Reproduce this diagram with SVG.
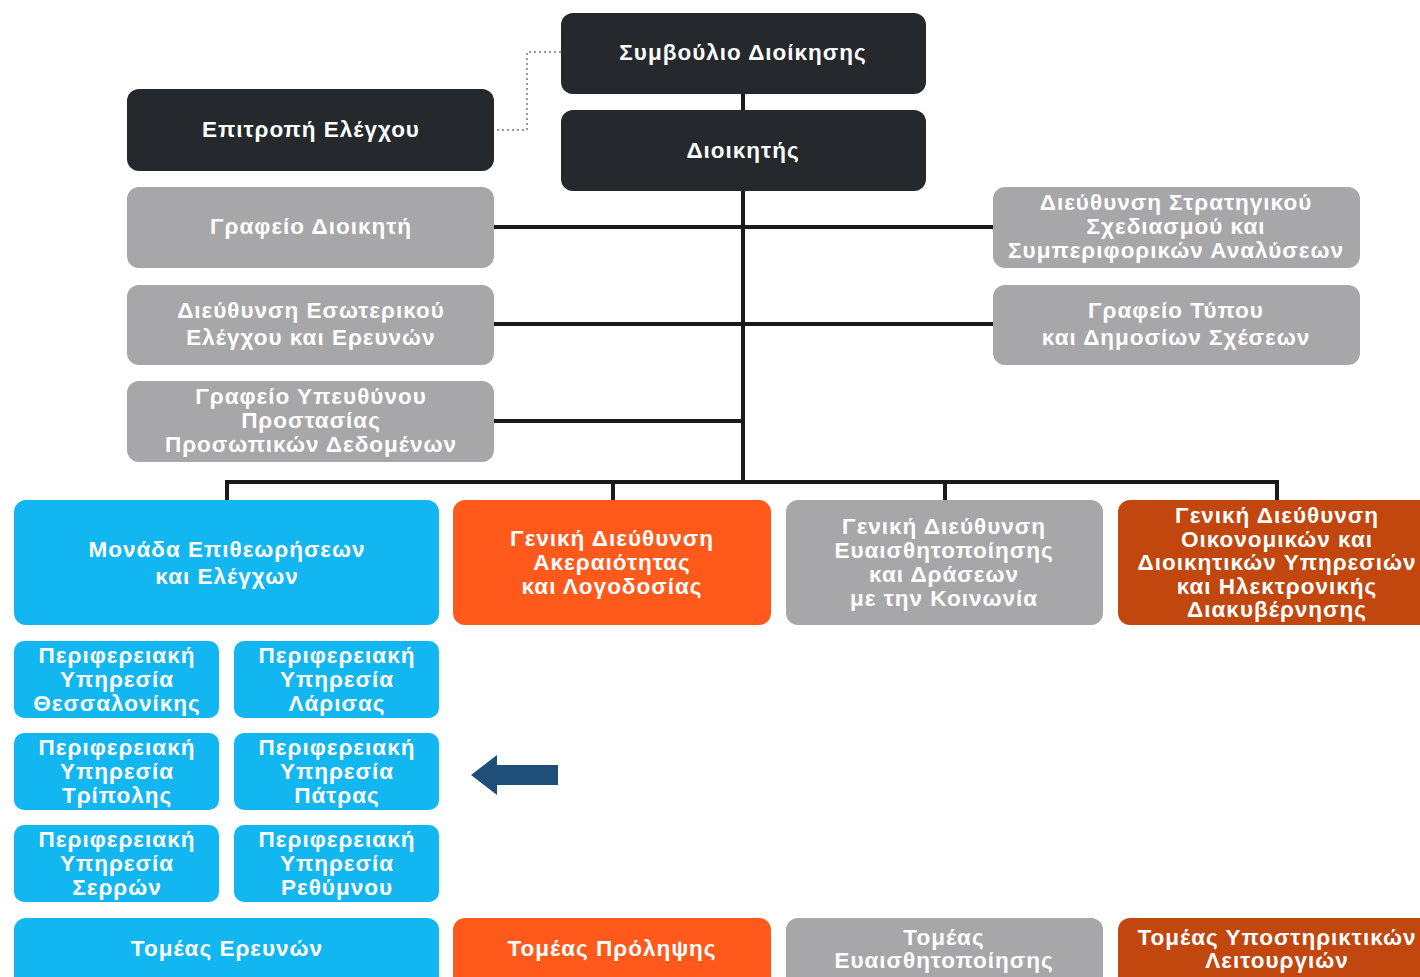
<svg xmlns="http://www.w3.org/2000/svg" width="1420" height="977" viewBox="0 0 1420 977">
<style>
.box{stroke:none}
.dark{fill:#25282c}
.gray{fill:#a7a7a9}
.blue{fill:#12b6f0}
.orange{fill:#ff5a1c}
.rust{fill:#c2470f}
text{font-family:"Liberation Sans",Arial,sans-serif;font-weight:bold;font-size:22.5px;fill:#ffffff;text-anchor:middle;dominant-baseline:central;letter-spacing:1px}
.line{stroke:#1a1a1a;stroke-width:4;fill:none}
.dot{stroke:#9a9a9a;stroke-width:2;stroke-dasharray:2 3;fill:none}
</style>
<rect width="1420" height="977" fill="#ffffff"/>
<g id="connectors">
<polyline class="dot" points="497,130 527,130 527,52 561,52"/>
<line class="line" x1="743" y1="94" x2="743" y2="110"/>
<line class="line" x1="743" y1="191" x2="743" y2="484"/>
<line class="line" x1="494" y1="227" x2="993" y2="227"/>
<line class="line" x1="494" y1="324" x2="993" y2="324"/>
<line class="line" x1="494" y1="421" x2="743" y2="421"/>
<polyline class="line" points="227,500 227,482 1277,482 1277,500"/>
<line class="line" x1="613" y1="482" x2="613" y2="500"/>
<line class="line" x1="945" y1="482" x2="945" y2="500"/>
</g>
<g id="n-symvoulio"><rect class="box dark" x="561" y="13" width="365" height="81" rx="12"/><text x="743" y="52">Συμβούλιο Διοίκησης</text></g>
<g id="n-dioikitis"><rect class="box dark" x="561" y="110" width="365" height="81" rx="12"/><text x="743" y="150">Διοικητής</text></g>
<g id="n-epitropi"><rect class="box dark" x="127" y="89" width="367" height="82" rx="12"/><text x="311" y="129">Επιτροπή Ελέγχου</text></g>
<g id="n-grafeio-dioikiti"><rect class="box gray" x="127" y="187" width="367" height="81" rx="12"/><text x="311" y="226">Γραφείο Διοικητή</text></g>
<g id="n-esoterikou"><rect class="box gray" x="127" y="285" width="367" height="80" rx="12"/><text x="311" y="310">Διεύθυνση Εσωτερικού</text><text x="311" y="337">Ελέγχου και Ερευνών</text></g>
<g id="n-dpo"><rect class="box gray" x="127" y="381" width="367" height="81" rx="12"/><text x="311" y="396">Γραφείο Υπευθύνου</text><text x="311" y="420">Προστασίας</text><text x="311" y="444">Προσωπικών Δεδομένων</text></g>
<g id="n-stratigikou"><rect class="box gray" x="993" y="187" width="367" height="81" rx="12"/><text x="1176" y="202">Διεύθυνση Στρατηγικού</text><text x="1176" y="226">Σχεδιασμού και</text><text x="1176" y="250">Συμπεριφορικών Αναλύσεων</text></g>
<g id="n-typou"><rect class="box gray" x="993" y="285" width="367" height="80" rx="12"/><text x="1176" y="310">Γραφείο Τύπου</text><text x="1176" y="337">και Δημοσίων Σχέσεων</text></g>
<g id="n-monada"><rect class="box blue" x="14" y="500" width="425" height="125" rx="12"/><text x="227" y="549">Μονάδα Επιθεωρήσεων</text><text x="227" y="576">και Ελέγχων</text></g>
<g id="n-akeraiotitas"><rect class="box orange" x="453" y="500" width="318" height="125" rx="12"/><text x="612" y="538">Γενική Διεύθυνση</text><text x="612" y="562">Ακεραιότητας</text><text x="612" y="586">και Λογοδοσίας</text></g>
<g id="n-evaisthitopoiisis"><rect class="box gray" x="786" y="500" width="317" height="125" rx="12"/><text x="944" y="526">Γενική Διεύθυνση</text><text x="944" y="550">Ευαισθητοποίησης</text><text x="944" y="574">και Δράσεων</text><text x="944" y="598">με την Κοινωνία</text></g>
<g id="n-oikonomikon"><rect class="box rust" x="1118" y="500" width="320" height="125" rx="12"/><text x="1277" y="515">Γενική Διεύθυνση</text><text x="1277" y="539">Οικονομικών και</text><text x="1277" y="562">Διοικητικών Υπηρεσιών</text><text x="1277" y="586">και Ηλεκτρονικής</text><text x="1277" y="609">Διακυβέρνησης</text></g>
<g id="n-thessalonikis"><rect class="box blue" x="14" y="641" width="205" height="77" rx="10"/><text x="117" y="655">Περιφερειακή</text><text x="117" y="679">Υπηρεσία</text><text x="117" y="703">Θεσσαλονίκης</text></g>
<g id="n-larisas"><rect class="box blue" x="234" y="641" width="205" height="77" rx="10"/><text x="337" y="655">Περιφερειακή</text><text x="337" y="679">Υπηρεσία</text><text x="337" y="703">Λάρισας</text></g>
<g id="n-tripolis"><rect class="box blue" x="14" y="733" width="205" height="77" rx="10"/><text x="117" y="747">Περιφερειακή</text><text x="117" y="771">Υπηρεσία</text><text x="117" y="795">Τρίπολης</text></g>
<g id="n-patras"><rect class="box blue" x="234" y="733" width="205" height="77" rx="10"/><text x="337" y="747">Περιφερειακή</text><text x="337" y="771">Υπηρεσία</text><text x="337" y="795">Πάτρας</text></g>
<g id="n-serron"><rect class="box blue" x="14" y="825" width="205" height="77" rx="10"/><text x="117" y="839">Περιφερειακή</text><text x="117" y="863">Υπηρεσία</text><text x="117" y="887">Σερρών</text></g>
<g id="n-rethymnou"><rect class="box blue" x="234" y="825" width="205" height="77" rx="10"/><text x="337" y="839">Περιφερειακή</text><text x="337" y="863">Υπηρεσία</text><text x="337" y="887">Ρεθύμνου</text></g>
<g id="n-tomeas-erevnon"><rect class="box blue" x="14" y="918" width="425" height="80" rx="12"/><text x="227" y="948">Τομέας Ερευνών</text></g>
<g id="n-tomeas-prolipsis"><rect class="box orange" x="453" y="918" width="318" height="80" rx="12"/><text x="612" y="948">Τομέας Πρόληψης</text></g>
<g id="n-tomeas-evaisth"><rect class="box gray" x="786" y="918" width="317" height="80" rx="12"/><text x="944" y="937">Τομέας</text><text x="944" y="960">Ευαισθητοποίησης</text></g>
<g id="n-tomeas-ypostir"><rect class="box rust" x="1118" y="918" width="320" height="80" rx="12"/><text x="1277" y="937">Τομέας Υποστηρικτικών</text><text x="1277" y="960">Λειτουργιών</text></g>
<g id="arrow"><polygon points="471,775 497,755 497,765 558,765 558,785 497,785 497,795" fill="#1f4e79"/></g>
</svg>
